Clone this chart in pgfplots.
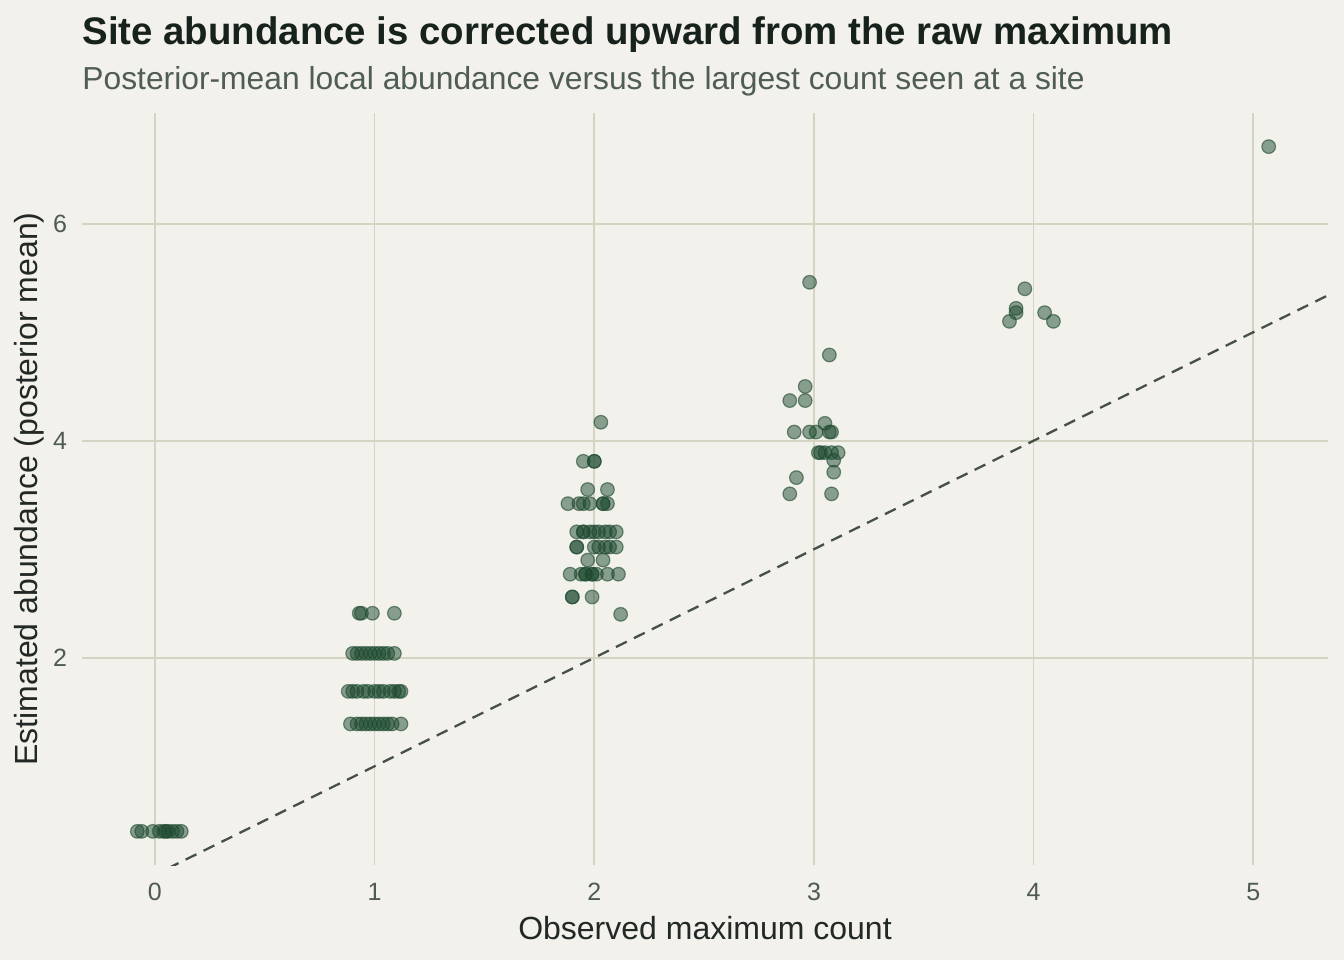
\documentclass[border=0pt]{standalone}
\usepackage{pgfplots}
\pgfplotsset{compat=1.18}
\usepackage{fontspec}
\setmainfont{Liberation Sans}

\definecolor{bg}{HTML}{F2F1EB}
\definecolor{gridc}{HTML}{D4D4C3}
\definecolor{pt}{HTML}{1E4A30}
\definecolor{titlec}{HTML}{18221D}
\definecolor{subc}{HTML}{505C56}
\definecolor{tickc}{HTML}{4F5A55}
\definecolor{labc}{HTML}{222826}
\definecolor{refl}{HTML}{465049}

\begin{document}
\begin{tikzpicture}
\path[fill=bg] (0,0) rectangle (672pt,480pt);
\useasboundingbox (0,0) rectangle (672pt,480pt);

\node[anchor=west, text=titlec, font=\fontsize{19.2}{22}\selectfont\bfseries, inner sep=0pt]
  at (41pt,462.5pt) {Site abundance is corrected upward from the raw maximum};
\node[anchor=west, text=subc, font=\fontsize{15.9}{18}\selectfont, inner sep=0pt]
  at (41pt,439.5pt) {Posterior-mean local abundance versus the largest count seen at a site};

\begin{axis}[
  at={(41pt,47.5pt)}, anchor=south west,
  scale only axis, width=623pt, height=376pt,
  xmin=-0.332, xmax=5.34, ymin=0.09, ymax=7.02,
  xtick={0,1,2,3,4,5}, ytick={2,4,6},
  grid=major,
  major grid style={draw=gridc, line width=0.85pt},
  axis line style={draw=none},
  tick style={draw=none},
  major tick length=0pt,
  /pgf/number format/assume math mode=true,
  tick label style={text=tickc, font=\fontsize{12.5}{14}\selectfont},
  xticklabel style={anchor=center, yshift=-13.5pt},
  yticklabel style={anchor=center, xshift=-11pt},
  xlabel={Observed maximum count},
  ylabel={Estimated abundance (posterior mean)},
  label style={text=labc, font=\fontsize{16}{18}\selectfont},
  xlabel style={at={(axis description cs:0.5,-0.0838)}, anchor=center},
  ylabel style={at={(axis description cs:-0.0425,0.5)}, anchor=center, rotate=0},
  clip=true,
]
% one-to-one reference line
\addplot[refl, line width=1.15pt, dash pattern=on 6pt off 4pt] coordinates {(-0.35,-0.35) (5.34,5.34)};

% site estimates, jittered horizontally around the observed maximum
\addplot[only marks, mark=*, mark size=3.4pt,
  mark options={draw=pt, fill=pt, fill opacity=0.5, draw opacity=0.6, line width=0.6pt}]
  coordinates {
  % max count 0
  (-0.08,0.40) (-0.06,0.40) (-0.01,0.40) (0.02,0.40) (0.04,0.40) (0.05,0.40)
  (0.06,0.40) (0.08,0.40) (0.10,0.40) (0.12,0.40)
  % max count 1
  (0.93,2.41) (0.94,2.41) (0.99,2.41) (1.09,2.41)
  (0.90,2.04) (0.92,2.04) (0.94,2.04) (0.96,2.04) (0.98,2.04) (1.00,2.04)
  (1.02,2.04) (1.04,2.04) (1.06,2.04) (1.09,2.04)
  (0.88,1.69) (0.90,1.69) (0.92,1.69) (0.95,1.69) (0.97,1.69) (1.00,1.69)
  (1.02,1.69) (1.04,1.69) (1.07,1.69) (1.09,1.69) (1.11,1.69) (1.12,1.69)
  (0.89,1.39) (0.92,1.39) (0.94,1.39) (0.96,1.39) (0.98,1.39) (1.00,1.39)
  (1.02,1.39) (1.04,1.39) (1.06,1.39) (1.08,1.39) (1.12,1.39)
  % max count 2
  (2.03,4.17)
  (1.95,3.81) (2.00,3.81) (2.00,3.81)
  (1.97,3.55) (2.06,3.55)
  (1.88,3.42) (1.93,3.42) (1.95,3.42) (1.98,3.42) (2.04,3.42) (2.04,3.42) (2.06,3.42)
  (1.92,3.16) (1.95,3.16) (1.95,3.16) (1.98,3.16) (2.00,3.16) (2.02,3.16)
  (2.05,3.16) (2.07,3.16) (2.10,3.16)
  (1.92,3.02) (1.92,3.02) (2.00,3.02) (2.02,3.02) (2.05,3.02) (2.07,3.02) (2.10,3.02)
  (1.97,2.90) (2.04,2.90)
  (1.89,2.77) (1.94,2.77) (1.96,2.77) (1.96,2.77) (1.99,2.77) (1.99,2.77)
  (2.01,2.77) (2.06,2.77) (2.11,2.77)
  (1.90,2.56) (1.90,2.56) (1.99,2.56)
  (2.12,2.40)
  % max count 3
  (2.98,5.46) (3.07,4.79) (2.96,4.50) (2.89,4.37) (2.96,4.37) (3.05,4.16)
  (2.91,4.08) (2.98,4.08) (3.01,4.08) (3.07,4.08) (3.08,4.08)
  (3.02,3.89) (3.03,3.89) (3.05,3.89) (3.08,3.89) (3.11,3.89)
  (3.09,3.82) (3.09,3.71) (2.92,3.66) (2.89,3.51) (3.08,3.51)
  % max count 4
  (3.96,5.40) (3.92,5.22) (3.92,5.18) (3.89,5.10) (4.05,5.18) (4.09,5.10)
  % max count 5
  (5.07,6.71)
  };
\end{axis}
\end{tikzpicture}
\end{document}
